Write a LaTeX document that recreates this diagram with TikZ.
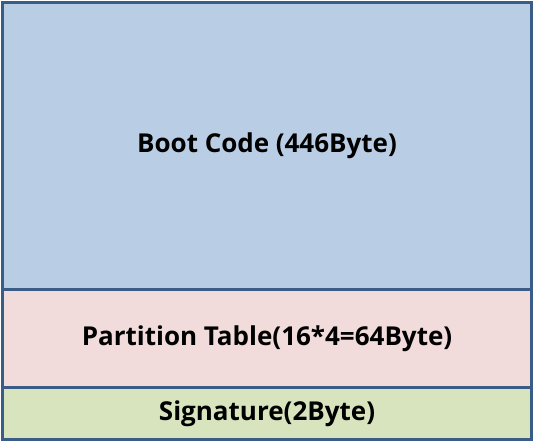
\documentclass[tikz,border=0pt]{standalone}
\usepackage{fontspec}
\setmainfont{Open Sans}
\usetikzlibrary{positioning}
\definecolor{edge}{HTML}{3A5D88}
\definecolor{bootblue}{HTML}{B9CDE5}
\definecolor{tablepink}{HTML}{F2DCDB}
\definecolor{signgreen}{HTML}{D7E4BD}

\begin{document}
\begin{tikzpicture}[
  x=1pt,y=1pt,
  node distance=0pt,
  part/.style={draw=edge,line width=2.5pt,outer sep=0pt,inner sep=0pt,minimum width=529pt,align=center,font=\fontsize{26}{30}\selectfont\bfseries},
  bootpart/.style={part,fill=bootblue,minimum height=287pt},
  tablepart/.style={part,fill=tablepink,minimum height=98pt},
  signpart/.style={part,fill=signgreen,minimum height=52pt}
]
\useasboundingbox (0,0) rectangle (534,-443);
\node[bootpart,anchor=north west] (boot) at (2.5,-2.5) {Boot Code\hspace{0.25em}(446Byte)};
\node[tablepart,below=of boot] (table) {Partition Table(16*4=64Byte)};
\node[signpart,below=of table] (sign) {Signature(2Byte)};
\end{tikzpicture}
\end{document}
